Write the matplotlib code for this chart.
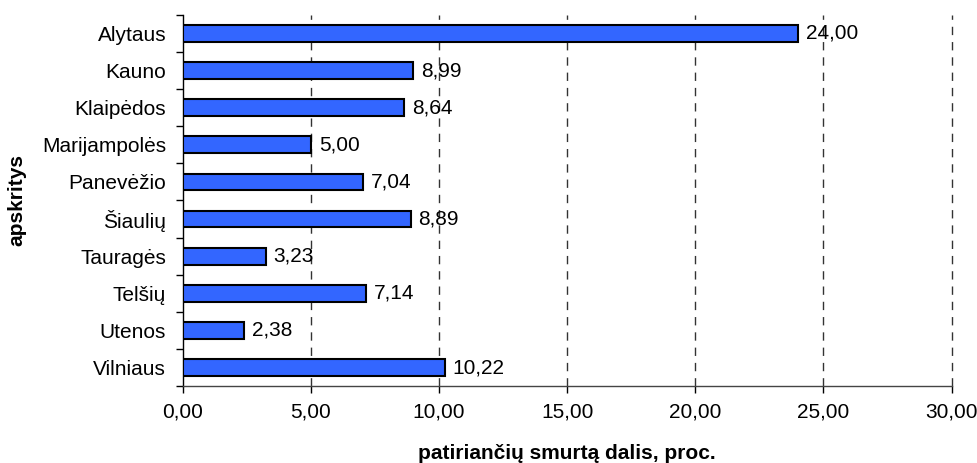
import matplotlib.pyplot as plt
import numpy as np

plt.rcParams['font.family'] = ['Liberation Sans', 'DejaVu Sans']

regions = ["Alytaus", "Kauno", "Klaipėdos", "Marijampolės", "Panevėžio",
           "Šiaulių", "Tauragės", "Telšių", "Utenos", "Vilniaus"]
values = [24.00, 8.99, 8.64, 5.00, 7.04, 8.89, 3.23, 7.14, 2.38, 10.22]
xticks = [0, 5, 10, 15, 20, 25, 30]

fs = 15
fig = plt.figure(figsize=(9.78, 4.63), dpi=100)
ax = fig.add_axes([0.187, 0.166, 0.786, 0.802])

y = np.arange(len(regions))
ax.barh(y, values, height=0.45, color="#3366FF", edgecolor="black", linewidth=1.5, zorder=3)
for yi, v in zip(y, values):
    ax.text(v + 0.3, yi, ("%.2f" % v).replace(".", ","), va="center", ha="left", fontsize=fs, zorder=4)

ax.set_ylim(len(regions) - 0.5, -0.5)
ax.set_xlim(0, 30)
ax.set_yticks(y)
ax.set_yticklabels(regions, fontsize=fs)
ax.set_yticks(np.arange(len(regions) + 1) - 0.5, minor=True)
ax.tick_params(axis="y", which="major", length=0, pad=12)
ax.tick_params(axis="y", which="minor", length=5, width=1)
ax.set_xticks(xticks)
ax.set_xticklabels([("%.2f" % t).replace(".", ",") for t in xticks], fontsize=fs)
ax.tick_params(axis="x", length=5, width=1, pad=7)

# dashed vertical gridlines
for t in xticks[1:]:
    ax.axvline(t, color="#333333", linestyle=(0, (6, 5)), linewidth=1, zorder=1, clip_on=False)

ax.spines["top"].set_visible(False)
ax.spines["right"].set_visible(False)
ax.spines["left"].set_linewidth(1)
ax.spines["bottom"].set_linewidth(1)
ax.spines["bottom"].set_color("#444444")

ax.set_xlabel("patiriančių smurtą dalis, proc.", fontsize=fs, fontweight="bold", labelpad=16)
ax.set_ylabel("apskritys", fontsize=fs, fontweight="bold", labelpad=11)

fig.savefig("out.png", dpi=100)
